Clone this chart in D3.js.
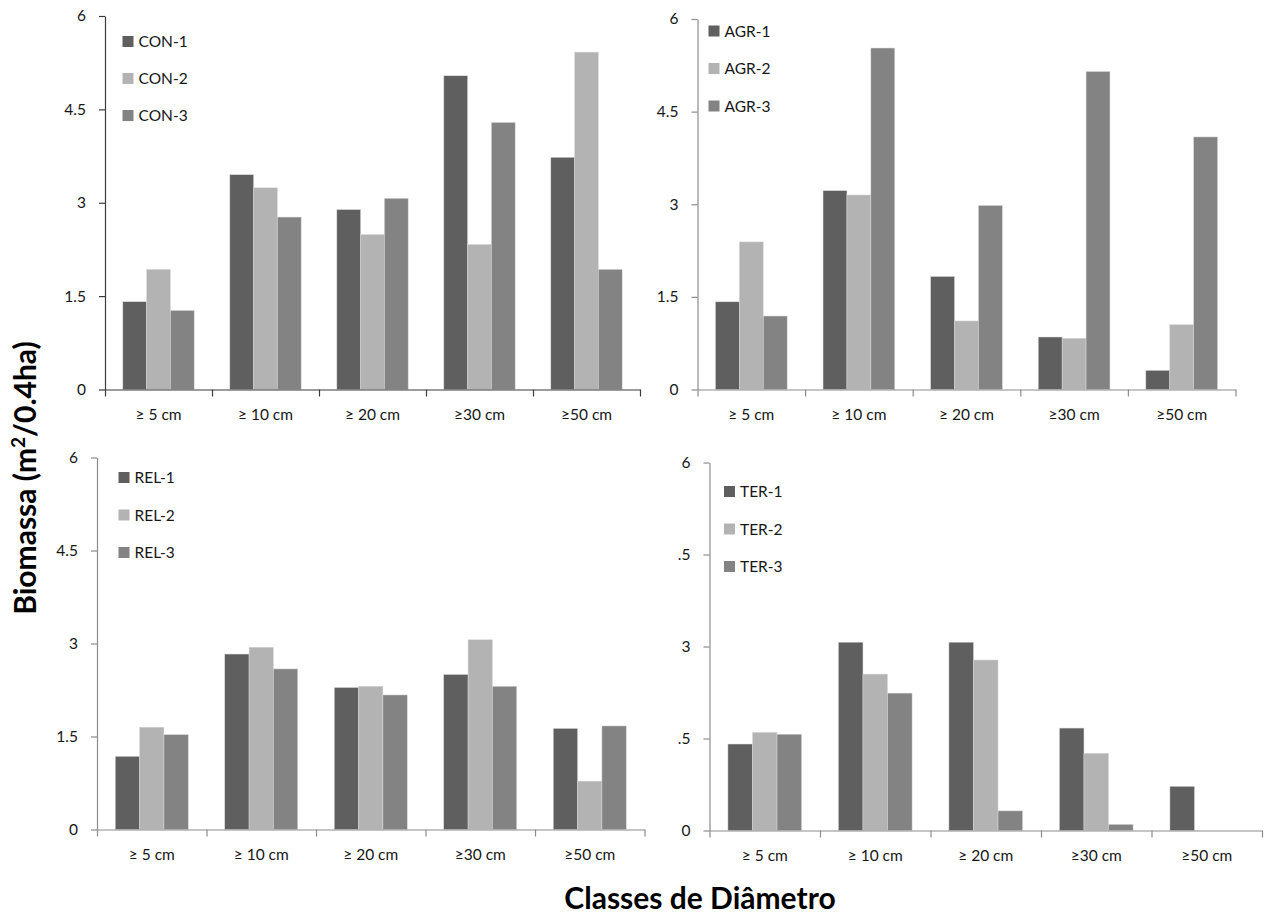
<!DOCTYPE html>
<html>
<head>
<meta charset="utf-8">
<script src="https://cdn.jsdelivr.net/npm/d3@7"></script>
<style>
  html, body { margin: 0; padding: 0; background: #fff; }
  svg { display: block; font-family: Lato, "Open Sans", sans-serif; }
</style>
</head>
<body>
<svg id="chart" width="1274" height="916"></svg>
<script>
// Diameter classes shared by every panel
const categories = ["≥ 5 cm", "≥ 10 cm", "≥ 20 cm", "≥30 cm", "≥50 cm"];

// Biomass per plot (m²/0.4ha)
const conSeries = ["CON-1", "CON-2", "CON-3"];
const con1 = [1.41, 3.45, 2.89, 5.04, 3.73];
const con2 = [1.93, 3.24, 2.49, 2.33, 5.42];
const con3 = [1.27, 2.77, 3.07, 4.29, 1.93];

const agrSeries = ["AGR-1", "AGR-2", "AGR-3"];
const agr1 = [1.42, 3.22, 1.83, 0.85, 0.31];
const agr2 = [2.39, 3.15, 1.11, 0.83, 1.05];
const agr3 = [1.19, 5.53, 2.98, 5.15, 4.09];

const relSeries = ["REL-1", "REL-2", "REL-3"];
const rel1 = [1.18, 2.83, 2.29, 2.50, 1.63];
const rel2 = [1.65, 2.94, 2.31, 3.06, 0.78];
const rel3 = [1.53, 2.59, 2.17, 2.31, 1.67];

const terSeries = ["TER-1", "TER-2", "TER-3"];
const ter1 = [1.41, 3.07, 3.07, 1.67, 0.72];
const ter2 = [1.60, 2.55, 2.78, 1.26, 0];
const ter3 = [1.57, 2.24, 0.32, 0.10, 0];

// Value axis ticks
const yTicks = [0, 1.5, 3, 4.5, 6];
const yTickLabels = ["0", "1.5", "3", "4.5", "6"];
const terTickLabels = ["0", ".5", "3", ".5", "6"];

const seriesColors = ["#5f5f5f", "#b3b3b3", "#838383"];

// Panel geometry and styling
const panels = [
  { names: conSeries, values: [con1, con2, con3], tickLabels: yTickLabels,
    x0: 105, x1: 640, yTop: 16, yBot: 389.5, axisColor: "#3c3c3c",
    legX: 122.5, legY: 41.5, legStep: 37 },
  { names: agrSeries, values: [agr1, agr2, agr3], tickLabels: yTickLabels,
    x0: 697.5, x1: 1235.5, yTop: 19, yBot: 389.5, axisColor: "#8c8c8c",
    legX: 708.5, legY: 31, legStep: 37.5 },
  { names: relSeries, values: [rel1, rel2, rel3], tickLabels: yTickLabels,
    x0: 97, x1: 644.5, yTop: 457.5, yBot: 829.5, axisColor: "#8c8c8c",
    legX: 118.5, legY: 477.5, legStep: 37.5 },
  { names: terSeries, values: [ter1, ter2, ter3], tickLabels: terTickLabels,
    x0: 709.5, x1: 1262, yTop: 462.5, yBot: 830.5, axisColor: "#8c8c8c",
    legX: 724, legY: 491.5, legStep: 37.5 }
];

const labelFont = 15.5;
const labelColor = "#161616";

const svg = d3.select("#chart");
svg.append("rect").attr("width", 1274).attr("height", 916).attr("fill", "#fff");

panels.forEach(p => {
  const g = svg.append("g");

  const y = d3.scaleLinear().domain([0, 6]).range([p.yBot, p.yTop]);
  const xCat = d3.scaleBand().domain(categories).range([p.x0, p.x1]).padding(0);
  const xSer = d3.scaleBand().domain(p.names).range([0, xCat.bandwidth()])
    .paddingInner(0).paddingOuter(0.75);

  // Bars
  p.names.forEach((name, si) => {
    g.append("g").selectAll("rect")
      .data(categories.map((c, ci) => ({ c, v: p.values[si][ci] })))
      .join("rect")
      .attr("x", d => xCat(d.c) + xSer(name))
      .attr("y", d => y(d.v))
      .attr("width", xSer.bandwidth())
      .attr("height", d => p.yBot - y(d.v))
      .attr("fill", seriesColors[si])
      .attr("stroke", "#d8d8d8")
      .attr("stroke-width", 0.5);
  });

  // Value axis
  const yAxis = g.append("g")
    .attr("transform", `translate(${p.x0},0)`)
    .call(d3.axisLeft(y).tickValues(yTicks)
      .tickFormat((d, i) => p.tickLabels[i])
      .tickSizeInner(6).tickSizeOuter(0).tickPadding(13));
  yAxis.select(".domain").attr("stroke", p.axisColor).attr("stroke-width", 1.2);
  yAxis.selectAll(".tick line").attr("stroke", p.axisColor).attr("stroke-width", 1.2);
  yAxis.selectAll(".tick text")
    .attr("font-size", labelFont).attr("fill", labelColor).attr("font-family", "Lato, sans-serif");

  // Category axis: boundary ticks plus centred labels
  const xBound = d3.scaleLinear().domain([0, categories.length]).range([p.x0, p.x1]);
  const xAxis = g.append("g")
    .attr("transform", `translate(0,${p.yBot})`)
    .call(d3.axisBottom(xBound).tickValues(d3.range(categories.length + 1))
      .tickFormat("").tickSizeInner(7).tickSizeOuter(0));
  xAxis.select(".domain").attr("stroke", p.axisColor).attr("stroke-width", 1.2);
  xAxis.selectAll(".tick line").attr("stroke", p.axisColor).attr("stroke-width", 1.2);

  const xLab = g.append("g")
    .attr("transform", `translate(0,${p.yBot})`)
    .call(d3.axisBottom(xCat).tickSize(0).tickPadding(19));
  xLab.select(".domain").remove();
  xLab.selectAll(".tick text")
    .attr("font-size", labelFont).attr("fill", labelColor).attr("font-family", "Lato, sans-serif");

  // Legend
  const leg = g.append("g");
  p.names.forEach((name, si) => {
    const cy = p.legY + si * p.legStep;
    leg.append("rect")
      .attr("x", p.legX).attr("y", cy - 5.5)
      .attr("width", 11).attr("height", 11)
      .attr("fill", seriesColors[si]);
    leg.append("text")
      .attr("x", p.legX + 16).attr("y", cy + 5.5)
      .attr("font-size", labelFont).attr("fill", labelColor)
      .text(name);
  });
});

// Axis titles
const yTitle = svg.append("text")
  .attr("transform", "translate(36,478) rotate(-90)")
  .attr("text-anchor", "middle")
  .attr("font-size", 30).attr("font-weight", "bold").attr("fill", "#000");
yTitle.append("tspan").text("Biomassa (m");
yTitle.append("tspan").attr("font-size", 19).attr("dy", -11).text("2");
yTitle.append("tspan").attr("dy", 11).text("/0.4ha)");

svg.append("text")
  .attr("x", 700).attr("y", 909)
  .attr("text-anchor", "middle")
  .attr("font-size", 30).attr("font-weight", "bold").attr("fill", "#000")
  .text("Classes de Diâmetro");
</script>
</body>
</html>
